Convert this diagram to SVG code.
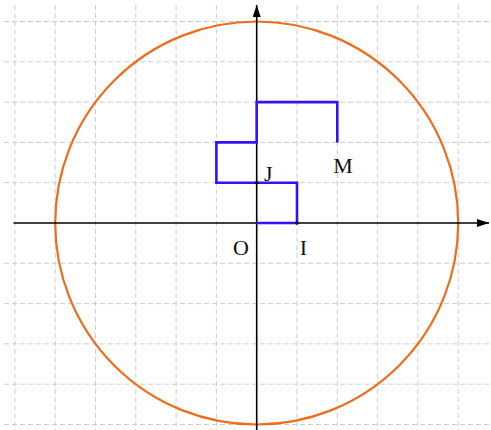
<svg xmlns="http://www.w3.org/2000/svg" width="491" height="430" viewBox="0 0 491 430">
<style>
.grid line{stroke:#cdcdcd;stroke-width:1;stroke-dasharray:5,3}
.axis{stroke:#000;stroke-width:1.6;fill:none}
.lbl{font-family:"Liberation Serif","Times New Roman",serif;font-size:22px;fill:#111;text-anchor:middle}
</style>
<defs>
<marker id="arr" markerWidth="12" markerHeight="8" refX="12" refY="4" orient="auto" markerUnits="userSpaceOnUse">
<path d="M0,0 L12,4 L0,8 Z" fill="#000"/>
</marker>
</defs>
<rect width="491" height="430" fill="#fff"/>
<g class="grid">
<line x1="14.9" y1="5" x2="14.9" y2="430"/>
<line x1="55.2" y1="5" x2="55.2" y2="430"/>
<line x1="95.5" y1="5" x2="95.5" y2="430"/>
<line x1="135.8" y1="5" x2="135.8" y2="430"/>
<line x1="176.1" y1="5" x2="176.1" y2="430"/>
<line x1="216.4" y1="5" x2="216.4" y2="430"/>
<line x1="297" y1="5" x2="297" y2="430"/>
<line x1="337.3" y1="5" x2="337.3" y2="430"/>
<line x1="377.6" y1="5" x2="377.6" y2="430"/>
<line x1="417.9" y1="5" x2="417.9" y2="430"/>
<line x1="458.2" y1="5" x2="458.2" y2="430"/>
<line x1="4" y1="21.5" x2="491" y2="21.5"/>
<line x1="4" y1="61.8" x2="491" y2="61.8"/>
<line x1="4" y1="102.1" x2="491" y2="102.1"/>
<line x1="4" y1="142.4" x2="491" y2="142.4"/>
<line x1="4" y1="182.7" x2="491" y2="182.7"/>
<line x1="4" y1="263.3" x2="491" y2="263.3"/>
<line x1="4" y1="303.6" x2="491" y2="303.6"/>
<line x1="4" y1="343.9" x2="491" y2="343.9"/>
<line x1="4" y1="384.2" x2="491" y2="384.2"/>
<line x1="4" y1="424.5" x2="491" y2="424.5"/>
</g>
<g id="circle">
<circle cx="256.7" cy="223" r="201.5" fill="none" stroke="#ef6c1a" stroke-width="2.2"/>
</g>
<g id="connectors">
<line class="axis" x1="13.5" y1="223" x2="489" y2="223" marker-end="url(#arr)"/>
<line class="axis" x1="256.7" y1="430" x2="256.7" y2="5" marker-end="url(#arr)"/>
<path d="M256.7,223 H297 V182.7 H216.4 V142.4 H256.7 V102.1 H337.3 V142.4" fill="none" stroke="#3311ff" stroke-width="2.6"/>
</g>
<g id="points">
<circle cx="256.7" cy="182.7" r="1.8" fill="#000"/>
<circle cx="297" cy="223" r="1.8" fill="#000"/>
</g>
<g id="labels">
<text class="lbl" x="241" y="255">O</text>
<text class="lbl" x="303.3" y="255">I</text>
<text class="lbl" x="268.3" y="181">J</text>
<text class="lbl" x="343" y="172.5">M</text>
</g>
</svg>
